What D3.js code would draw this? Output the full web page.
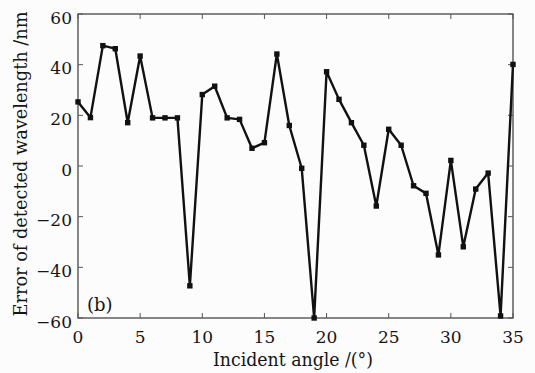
<!DOCTYPE html>
<html><head><meta charset="utf-8">
<script src="https://cdn.jsdelivr.net/npm/d3@7"></script>
<style>body{margin:0;background:#fcfcfc;} svg{display:block;}</style>
</head><body>
<svg id="c" width="535" height="373"></svg>
<script>
const angles = d3.range(0, 36);
const errors = [25.3, 19.1, 47.5, 46.3, 17.1, 43.4, 19, 19, 19, -47.3,
  28.2, 31.5, 19, 18.4, 7, 9.2, 44.2, 16, -0.9, -60,
  37.2, 26.3, 17.1, 8.2, -15.8, 14.5, 8.2, -7.8, -10.8, -35.1,
  2.2, -31.9, -9.1, -2.8, -59.2, 40.1];
const xTicks = [0, 5, 10, 15, 20, 25, 30, 35];
const yTicks = [-60, -40, -20, 0, 20, 40, 60];
const xLabel = "Incident angle /(°)";
const yLabel = "Error of detected wavelength /nm";
const panelLabel = "(b)";

const svg = d3.select("#c");
const L = 78, R = 513, T = 14, B = 318;
const x = d3.scaleLinear().domain([0, 35]).range([L, R]);
const y = d3.scaleLinear().domain([-60, 60]).range([B, T]);
const font = "'DejaVu Serif', serif";
const axisColor = "#555";
const txt = "#151515";

svg.append("rect").attr("x", L).attr("y", T).attr("width", R - L).attr("height", B - T)
  .attr("fill", "none").attr("stroke", axisColor).attr("stroke-width", 1.4);

const g = svg.append("g");
xTicks.forEach(v => {
  g.append("line").attr("x1", x(v)).attr("x2", x(v)).attr("y1", B).attr("y2", B - 5).attr("stroke", axisColor);
  g.append("line").attr("x1", x(v)).attr("x2", x(v)).attr("y1", T).attr("y2", T + 5).attr("stroke", axisColor);
  svg.append("text").attr("x", x(v)).attr("y", 343).attr("text-anchor", "middle")
    .attr("font-family", font).attr("font-size", 17).attr("fill", txt).text(v);
});
yTicks.forEach(v => {
  g.append("line").attr("x1", L).attr("x2", L + 5).attr("y1", y(v)).attr("y2", y(v)).attr("stroke", axisColor);
  g.append("line").attr("x1", R).attr("x2", R - 5).attr("y1", y(v)).attr("y2", y(v)).attr("stroke", axisColor);
  svg.append("text").attr("x", 72).attr("y", y(v) + 9.5).attr("text-anchor", "end")
    .attr("font-family", font).attr("font-size", 17).attr("fill", txt)
    .text(v < 0 ? "\u2212" + Math.abs(v) : v);
});

svg.append("text").attr("x", 293).attr("y", 366).attr("text-anchor", "middle")
  .attr("font-family", font).attr("font-size", 18).attr("fill", txt)
  .attr("textLength", 160).attr("lengthAdjust", "spacingAndGlyphs").text(xLabel);
svg.append("text").attr("transform", "translate(27,164) rotate(-90)").attr("text-anchor", "middle")
  .attr("font-family", font).attr("font-size", 18).attr("fill", txt)
  .attr("textLength", 305).attr("lengthAdjust", "spacingAndGlyphs").text(yLabel);
svg.append("text").attr("x", 87).attr("y", 311)
  .attr("font-family", font).attr("font-size", 18).attr("fill", txt).text(panelLabel);

const data = angles.map((a, i) => ({a, e: errors[i]}));
svg.append("path").datum(data)
  .attr("d", d3.line().x(d => x(d.a)).y(d => y(d.e)))
  .attr("fill", "none").attr("stroke", "#111").attr("stroke-width", 2.4).attr("stroke-linejoin", "round");
svg.selectAll("rect.m").data(data).enter().append("rect").attr("class", "m")
  .attr("x", d => x(d.a) - 2.7).attr("y", d => y(d.e) - 2.7)
  .attr("width", 5.4).attr("height", 5.4).attr("fill", "#111");
</script>
</body></html>
